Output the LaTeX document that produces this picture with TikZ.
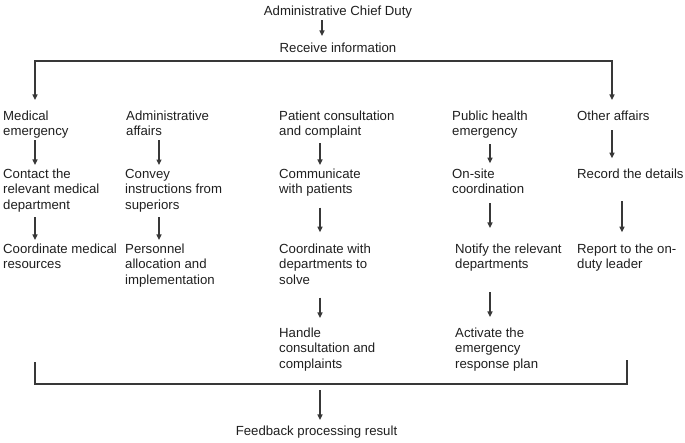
\documentclass[tikz,border=0pt]{standalone}
\usepackage{fontspec}
\setmainfont{Liberation Sans}
\usetikzlibrary{arrows.meta,positioning,calc}
\definecolor{dutyink}{gray}{0.12}
\definecolor{dutyline}{gray}{0.22}

\begin{document}
\begin{tikzpicture}[x=1pt,y=-1pt,font=\fontsize{13.2}{15.6}\selectfont,
  txt/.style={anchor=base west,align=left,inner sep=0pt,text=dutyink},
  link/.style={draw=dutyline,line width=1.2pt},
  arr/.style={link,-{Triangle[length=5.5pt,width=5pt]}},
  gap/.style 2 args={shorten <=#1pt,shorten >=#2pt}]
  \useasboundingbox (0,0) rectangle (685,442);

  \coordinate (xt) at (322,0);
  \coordinate (x1) at (35,0);
  \coordinate (x2) at (159,0);
  \coordinate (x3) at (320,0);
  \coordinate (x4) at (490,0);
  \coordinate (x5) at (612,0);
  \coordinate (x6) at (622,0);

  % nodes sit on the baseline of their last line
  \node[txt,anchor=base] (head) at (338,15) {Administrative Chief Duty};
  \node[txt,anchor=base] (recv) at (338,52) {Receive information};
  \coordinate (split) at (320,61);

  \node[txt] (med1) at (3,135.6) {Medical\\emergency};
  \node[txt] (med2) at (3,209.2) {Contact the\\relevant medical\\department};
  \node[txt] (med3) at (3,268.6) {Coordinate medical\\resources};

  \node[txt] (adm1) at (126,135.6) {Administrative\\affairs};
  \node[txt] (adm2) at (125,209.2) {Convey\\instructions from\\superiors};
  \node[txt] (adm3) at (125,284.2) {Personnel\\allocation and\\implementation};

  \node[txt] (pat1) at (279,135.6) {Patient consultation\\and complaint};
  \node[txt] (pat2) at (279,193.6) {Communicate\\with patients};
  \node[txt] (pat3) at (279,284.2) {Coordinate with\\departments to\\solve};
  \node[txt] (pat4) at (279,368.2) {Handle\\consultation and\\complaints};

  \node[txt] (pub1) at (452,135.6) {Public health\\emergency};
  \node[txt] (pub2) at (452,193.6) {On-site\\coordination};
  \node[txt] (pub3) at (455,268.6) {Notify the relevant\\departments};
  \node[txt] (pub4) at (455,368.2) {Activate the\\emergency\\response plan};

  \node[txt] (oth1) at (577,120) {Other affairs};
  \node[txt] (oth2) at (577,178) {Record the details};
  \node[txt] (oth3) at (577,268.6) {Report to the on-\\duty leader};

  \node[txt,anchor=base] (fb) at (316.5,435) {Feedback processing result};
  \coordinate (bl) at (35,362);
  \coordinate (br) at (627,360);
  \coordinate (merge) at (320,384);

  \draw[arr,gap={2.2}{6.3}] (head.south -| xt) -- (recv.north -| xt);
  \draw[arr,gap={0}{10.3}] (split) -| (med1.north -| x1);
  \draw[arr,gap={0}{10.3}] (split) -| (oth1.north -| x5);

  \draw[arr,gap={1.6}{3.3}] (med1.south -| x1) -- (med2.north -| x1);
  \draw[arr,gap={5.2}{3.3}] (med2.south -| x1) -- (med3.north -| x1);

  \draw[arr,gap={4.4}{3.5}] (adm1.south -| x2) -- (adm2.north -| x2);
  \draw[arr,gap={5.2}{3.3}] (adm2.south -| x2) -- (adm3.north -| x2);

  \draw[arr,gap={4.6}{3.3}] (pat1.south -| x3) -- (pat2.north -| x3);
  \draw[arr,gap={11}{11}] (pat2.south -| x3) -- (pat3.north -| x3);
  \draw[arr,gap={13}{9.3}] (pat3.south -| x3) -- (pat4.north -| x3);

  \draw[arr,gap={5.6}{5}] (pub1.south -| x4) -- (pub2.north -| x4);
  \draw[arr,gap={9.4}{15.3}] (pub2.south -| x4) -- (pub3.north -| x4);
  \draw[arr,gap={20.6}{10.3}] (pub3.south -| x4) -- (pub4.north -| x4);

  \draw[arr,gap={10}{10}] (oth1.south -| x5) -- (oth2.north -| x5);
  \draw[arr,gap={23}{11}] (oth2.south -| x6) -- (oth3.north -| x6);

  \draw[link] (bl) |- (merge) -| (br);
  \draw[arr,gap={6}{5.3}] (merge) -- (fb.north -| merge);
\end{tikzpicture}
\end{document}
